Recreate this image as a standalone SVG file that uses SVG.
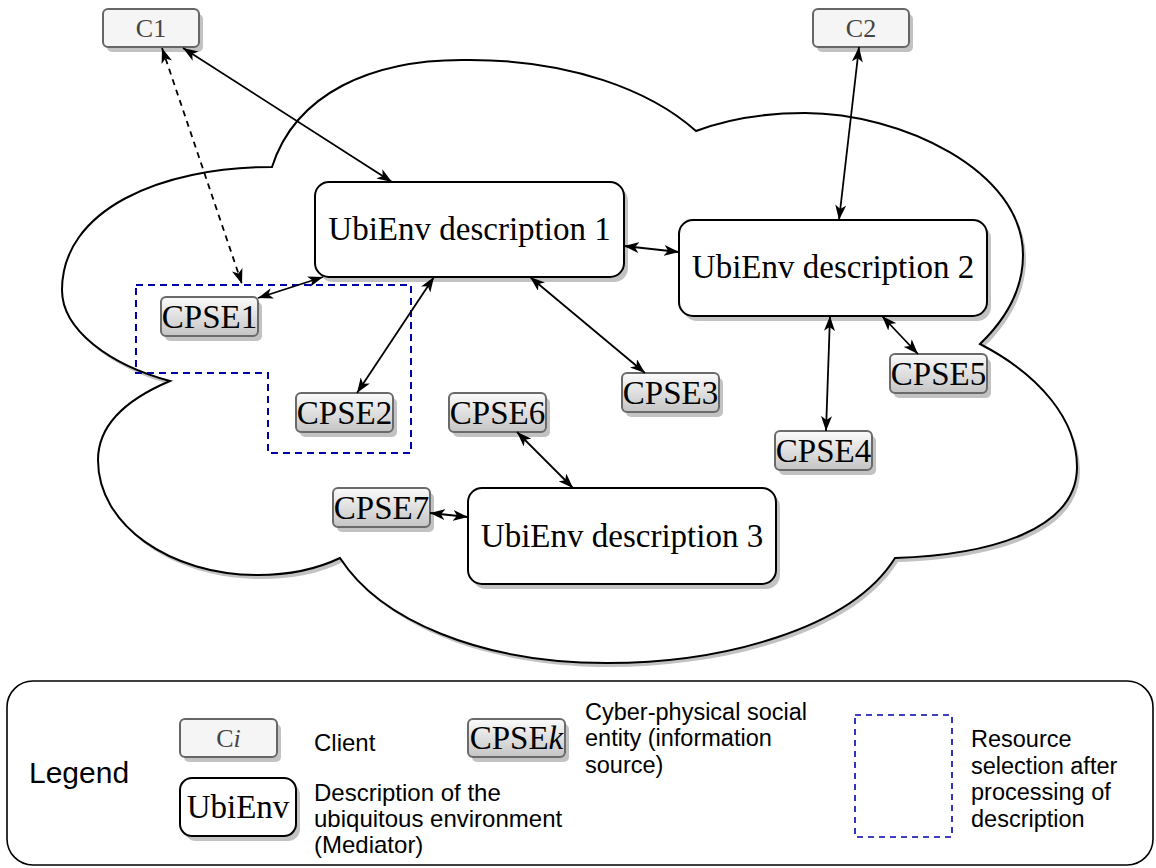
<svg xmlns="http://www.w3.org/2000/svg" width="1156" height="868" viewBox="0 0 1156 868">
<style>
.serif{font-family:"Liberation Serif","DejaVu Serif",serif;}
.sans{font-family:"Liberation Sans",Arial,sans-serif;fill:#000;}
.client rect.box{fill:#f5f5f5;stroke:#666;stroke-width:2;}
.client text{font-size:26px;fill:#444;text-anchor:middle;}
.cpse rect.box{fill:url(#cpseGrad);stroke:#6a6a6a;stroke-width:2;}
.cpse text{font-size:33px;fill:#000;text-anchor:middle;}
.ubi rect.box{fill:#fff;stroke:#000;stroke-width:2;}
.ubi text{font-size:33px;fill:#000;text-anchor:middle;}
.shadow{fill:#c2c2c2;}
.conn line{stroke:#000;stroke-width:1.8;marker-start:url(#arr);marker-end:url(#arr);}
.conn line.dash{stroke-dasharray:6 5;}
.sel{fill:none;stroke:#0000aa;stroke-width:2;stroke-dasharray:7 5;}
</style>
<defs>
<linearGradient id="cpseGrad" x1="0" y1="0" x2="0" y2="1">
<stop offset="0" stop-color="#fbfbfb"/>
<stop offset="1" stop-color="#c4c4c4"/>
</linearGradient>
<marker id="arr" viewBox="0 0 15 11" refX="15" refY="5.5" markerWidth="15" markerHeight="11" markerUnits="userSpaceOnUse" orient="auto-start-reverse">
<path d="M0,0 L15,5.5 L0,11 L4,5.5 Z" fill="#000"/>
</marker>
<path id="cloudPath" d="M272,167 C295,95 370,58 470,60 C570,60 650,90 696,131 C730,118 765,113 805,113 C900,113 1023,170 1023,255 C1023,290 1005,320 980,344 C1040,375 1077,420 1077,467 C1077,530 990,555 895,558 C850,630 720,663 607,663 C480,663 380,620 340,558 C315,570 290,575 258,575 C170,575 98,525 98,460 C98,425 125,400 170,381 C110,365 62,330 62,290 C62,210 160,167 272,167 Z"/>
</defs>

<g id="cloud">
<use href="#cloudPath" transform="translate(3,4)" fill="#c2c2c2"/>
<use href="#cloudPath" fill="#fff" stroke="#000" stroke-width="2"/>
</g>

<g id="selection">
<polygon class="sel" points="136,285 411,285 411,453 268,453 268,373 136,373"/>
</g>

<g id="C1" class="client">
<rect class="shadow" x="107" y="14" width="96" height="38" rx="5"/>
<rect class="box" x="103" y="9" width="96" height="38" rx="5"/>
<text class="serif" x="151" y="37">C1</text>
</g>
<g id="C2" class="client">
<rect class="shadow" x="817" y="14" width="96" height="38" rx="5"/>
<rect class="box" x="813" y="9" width="96" height="38" rx="5"/>
<text class="serif" x="861" y="37">C2</text>
</g>

<g id="UbiEnv1" class="ubi">
<rect class="shadow" x="319" y="187" width="309" height="95" rx="14"/>
<rect class="box" x="315" y="182" width="309" height="95" rx="14"/>
<text class="serif" x="469.5" y="240">UbiEnv description 1</text>
</g>
<g id="UbiEnv2" class="ubi">
<rect class="shadow" x="683" y="225" width="308" height="96" rx="14"/>
<rect class="box" x="679" y="220" width="308" height="96" rx="14"/>
<text class="serif" x="833" y="278">UbiEnv description 2</text>
</g>
<g id="UbiEnv3" class="ubi">
<rect class="shadow" x="472" y="493" width="308" height="96" rx="14"/>
<rect class="box" x="468" y="488" width="308" height="96" rx="14"/>
<text class="serif" x="622" y="547">UbiEnv description 3</text>
</g>

<g id="CPSE1" class="cpse">
<rect class="shadow" x="165" y="302" width="97" height="39" rx="5"/>
<rect class="box" x="161" y="297" width="97" height="39" rx="5"/>
<text class="serif" x="209.5" y="327.5">CPSE1</text>
</g>
<g id="CPSE2" class="cpse">
<rect class="shadow" x="300" y="398" width="97" height="39" rx="5"/>
<rect class="box" x="296" y="393" width="97" height="39" rx="5"/>
<text class="serif" x="344.5" y="423.5">CPSE2</text>
</g>
<g id="CPSE3" class="cpse">
<rect class="shadow" x="626" y="378" width="97" height="39" rx="5"/>
<rect class="box" x="622" y="373" width="97" height="39" rx="5"/>
<text class="serif" x="670.5" y="403.5">CPSE3</text>
</g>
<g id="CPSE4" class="cpse">
<rect class="shadow" x="779" y="436" width="97" height="39" rx="5"/>
<rect class="box" x="775" y="431" width="97" height="39" rx="5"/>
<text class="serif" x="823.5" y="461.5">CPSE4</text>
</g>
<g id="CPSE5" class="cpse">
<rect class="shadow" x="894" y="359" width="97" height="39" rx="5"/>
<rect class="box" x="890" y="354" width="97" height="39" rx="5"/>
<text class="serif" x="938.5" y="384.5">CPSE5</text>
</g>
<g id="CPSE6" class="cpse">
<rect class="shadow" x="453" y="398" width="97" height="39" rx="5"/>
<rect class="box" x="449" y="393" width="97" height="39" rx="5"/>
<text class="serif" x="497.5" y="423.5">CPSE6</text>
</g>
<g id="CPSE7" class="cpse">
<rect class="shadow" x="337" y="493" width="97" height="39" rx="5"/>
<rect class="box" x="333" y="488" width="97" height="39" rx="5"/>
<text class="serif" x="381.5" y="518.5">CPSE7</text>
</g>

<g id="connectors" class="conn">
<line x1="183" y1="48" x2="392" y2="182"/>
<line class="dash" x1="162" y1="48" x2="242" y2="284"/>
<line x1="258" y1="298" x2="323" y2="277"/>
<line x1="434" y1="277" x2="357" y2="393"/>
<line x1="624" y1="246" x2="679" y2="252"/>
<line x1="530" y1="277" x2="645" y2="373"/>
<line x1="859" y1="47" x2="839" y2="220"/>
<line x1="830" y1="316" x2="826" y2="431"/>
<line x1="882" y1="316" x2="918" y2="354"/>
<line x1="517" y1="432" x2="573" y2="488"/>
<line x1="430" y1="513" x2="468" y2="517"/>
</g>

<g id="legend">
<rect x="7" y="681" width="1146" height="184" rx="26" fill="none" stroke="#000" stroke-width="1.6"/>
<text class="sans" x="29" y="783" font-size="30">Legend</text>
<g id="legend-client" class="client">
<rect class="shadow" x="184" y="724" width="97" height="38" rx="5"/>
<rect class="box" x="180" y="719" width="97" height="38" rx="5"/>
<text class="serif" x="228.5" y="747">C<tspan font-style="italic">i</tspan></text>
</g>
<text class="sans" x="314" y="751" font-size="24">Client</text>
<g id="legend-ubienv" class="ubi">
<rect class="shadow" x="184" y="783" width="116" height="58" rx="12"/>
<rect class="box" x="180" y="778" width="116" height="58" rx="12"/>
<text class="serif" x="238" y="818">UbiEnv</text>
</g>
<text class="sans" font-size="24"><tspan x="314" y="801">Description of the</tspan><tspan x="314" y="827">ubiquitous environment</tspan><tspan x="314" y="853">(Mediator)</tspan></text>
<g id="legend-cpse" class="cpse">
<rect class="shadow" x="472" y="724" width="97" height="38" rx="5"/>
<rect class="box" x="468" y="719" width="97" height="38" rx="5"/>
<text class="serif" x="516.5" y="749">CPSE<tspan font-style="italic">k</tspan></text>
</g>
<text class="sans" font-size="23.5"><tspan x="585" y="720">Cyber-physical social</tspan><tspan x="585" y="746">entity (information</tspan><tspan x="585" y="773">source)</tspan></text>
<rect class="sel" x="855" y="715" width="97" height="122" style="stroke-width:1.6;stroke-dasharray:6 5"/>
<text class="sans" font-size="23.5"><tspan x="971" y="747">Resource</tspan><tspan x="971" y="774">selection after</tspan><tspan x="971" y="800">processing of</tspan><tspan x="971" y="827">description</tspan></text>
</g>
</svg>
